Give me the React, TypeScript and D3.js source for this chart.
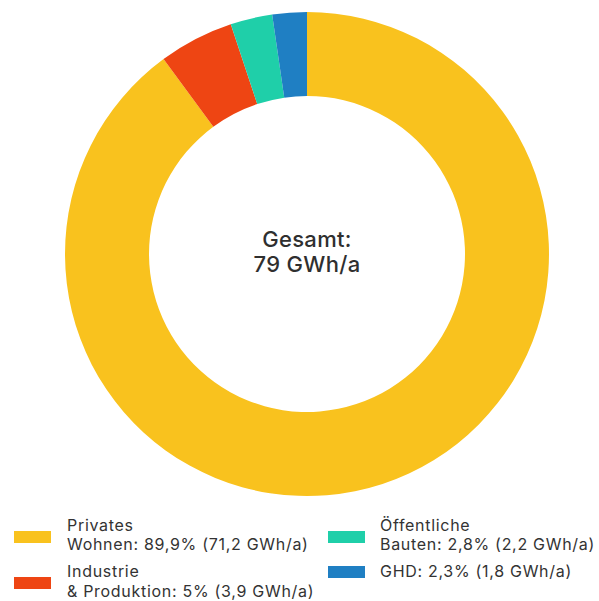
import React from "react";
import * as d3 from "d3";

// Energy consumption by sector (share in %, absolute in GWh/a)
const sectors = ["Privates Wohnen", "Industrie & Produktion", "Öffentliche Bauten", "GHD"];
const shares = [89.9, 5, 2.8, 2.3];
const colors = ["#F9C21E", "#EE4513", "#1FCFA9", "#1F7FC3"];
const legendLines = [
  ["Privates", "Wohnen: 89,9% (71,2 GWh/a)"],
  ["Industrie", "& Produktion: 5% (3,9 GWh/a)"],
  ["Öffentliche", "Bauten: 2,8% (2,2 GWh/a)"],
  ["GHD: 2,3% (1,8 GWh/a)"],
];
const totalLabel = ["Gesamt:", "79 GWh/a"];

const W = 599;
const H = 601;
const cx = 307;
const cy = 254;
const outerR = 242;
const innerR = 158;
const font = "Inter, 'Open Sans', sans-serif";

// legend layout: [swatchX, swatchY, textX, firstBaseline, lineGap]
const legendPos = [
  [14, 531, 67, 531, 19],
  [14, 577, 67, 577, 20],
  [328, 531, 380, 531, 19],
  [328, 566, 380, 577, 19],
];

export default function App() {
  const data = sectors.map((s, i) => ({ name: s, value: shares[i], color: colors[i] }));
  const pie = d3
    .pie<any>()
    .value((d) => d.value)
    .sort(null)
    .startAngle(0)
    .endAngle(2 * Math.PI);
  const arcs = pie(data);
  const arc = d3.arc<any>().innerRadius(innerR).outerRadius(outerR);

  return (
    <svg
      width={W}
      height={H}
      style={{ position: "absolute", left: 0, top: 0, background: "#fff" }}
      fontFamily={font}
    >
      <g transform={`translate(${cx},${cy})`}>
        {arcs.map((a, i) => (
          <path key={i} d={arc(a) as string} fill={a.data.color} />
        ))}
        <text textAnchor="middle" fontSize={22} fontWeight={500} fill="#2f2f2f" letterSpacing={0.3}>
          <tspan x={0} y={-7}>{totalLabel[0]}</tspan>
          <tspan x={0} y={18}>{totalLabel[1]}</tspan>
        </text>
      </g>
      {legendLines.map((lines, i) => {
        const [sx, sy, tx, ty, gap] = legendPos[i];
        return (
          <g key={i}>
            <rect x={sx} y={sy} width={37} height={12} fill={colors[i]} />
            <text fontSize={16} fill="#333" x={tx} letterSpacing={0.7}>
              {lines.map((l, j) => (
                <tspan key={j} x={tx} y={ty + j * gap}>
                  {l}
                </tspan>
              ))}
            </text>
          </g>
        );
      })}
    </svg>
  );
}
